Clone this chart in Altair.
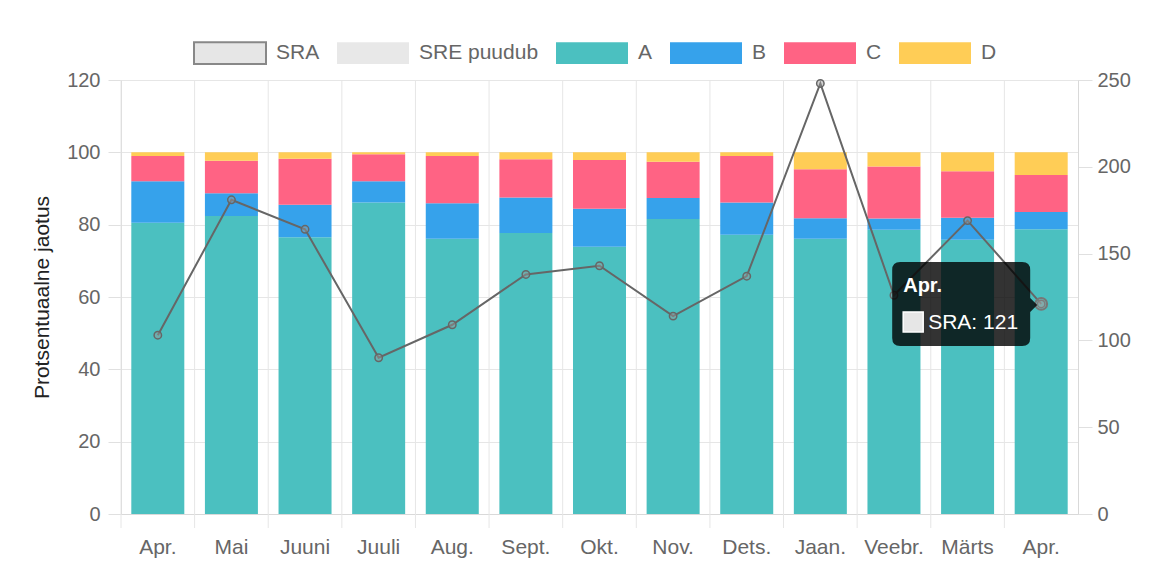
import altair as alt
import pandas as pd

# ---- data ----
months = ["Apr.", "Mai", "Juuni", "Juuli", "Aug.", "Sept.", "Okt.", "Nov.",
          "Dets.", "Jaan.", "Veebr.", "Märts", "Apr."]
series_names = ["A", "B", "C", "D"]
a_vals = [80.5, 82.4, 76.5, 86.1, 76.1, 77.7, 73.9, 81.6, 77.2, 76.1, 78.6, 75.8, 78.7]
b_vals = [11.5, 6.3, 9.0, 5.9, 9.8, 9.8, 10.5, 5.8, 8.9, 5.7, 3.1, 6.1, 4.8]
c_vals = [7.0, 9.0, 12.7, 7.5, 13.1, 10.6, 13.5, 10.0, 12.9, 13.5, 14.4, 12.9, 10.2]
d_vals = [1.0, 2.3, 1.8, 0.5, 1.0, 1.9, 2.1, 2.6, 1.0, 4.7, 3.9, 5.2, 6.3]
sra_vals = [103, 181, 164, 90, 109, 138, 143, 114, 137, 248, 126, 169, 121]

legend_domain = ["SRA", "SRE puudub", "A", "B", "C", "D"]
legend_colors = ["#e6e6e6", "#e8e8e8", "#4bc0c0", "#36a2eb", "#ff6384", "#ffcd56"]
legend_strokes = ["#888888", "transparent", "transparent", "transparent", "transparent", "transparent"]
left_ticks = [0, 20, 40, 60, 80, 100, 120]
right_ticks = [0, 50, 100, 150, 200, 250]
y_title = "Protsentuaalne jaotus"
tip_index = 12

FONT = "Liberation Sans, Arial, sans-serif"

# ---- tables ----
rows = []
for k, (name, vals) in enumerate(zip(series_names, [a_vals, b_vals, c_vals, d_vals])):
    for i, v in enumerate(vals):
        rows.append({"idx": i, "series": name, "value": v, "ord": k})
bars_df = pd.DataFrame(rows)
line_df = pd.DataFrame({"idx": list(range(len(months))), "sra": sra_vals})
grid_df = pd.DataFrame({"idx": list(range(len(months)))})
tip_df = pd.DataFrame({
    "idx": [tip_index],
    "sra": [sra_vals[tip_index]],
    "title": [months[tip_index]],
    "body": [f"SRA: {sra_vals[tip_index]}"],
})

label_expr = "[" + ",".join(f"'{m}'" for m in months) + "][datum.value]"

x_scale = alt.Scale(paddingInner=0, paddingOuter=0)
x_axis = alt.Axis(labelExpr=label_expr, labelAngle=0, title=None, tickSize=14,
                  tickOpacity=0, labelPadding=8, labelFontSize=21, labelColor="#666",
                  domainColor="#d9d9d9", grid=False, labelFont=FONT)


def xenc(**kw):
    return alt.X("idx:O", scale=x_scale, axis=x_axis, **kw)


y_left = alt.Y("value:Q", stack="zero",
               scale=alt.Scale(domain=[0, 120], nice=False),
               axis=alt.Axis(values=left_ticks, title=y_title, grid=True,
                             gridColor="#e6e6e6", tickSize=13, tickColor="#e0e0e0",
                             domainColor="#d9d9d9", labelPadding=8, labelFontSize=20,
                             labelColor="#666", titleFontSize=21, titleColor="#222",
                             titleFontWeight="normal", titlePadding=14,
                             labelFont=FONT, titleFont=FONT))

y_right = alt.Y("sra:Q", scale=alt.Scale(domain=[0, 250], nice=False),
                axis=alt.Axis(orient="right", values=right_ticks, title=None, grid=False,
                              tickSize=14, tickColor="#e0e0e0", domainColor="#d9d9d9",
                              labelPadding=5, labelFontSize=20, labelColor="#666",
                              labelFont=FONT))

# vertical grid lines at category boundaries
vgrid = alt.Chart(grid_df).mark_rule(color="#e6e6e6", strokeWidth=1).encode(
    x=xenc(bandPosition=0),
    y=alt.value(0),
    y2=alt.value(448),
)

legend = alt.Legend(
    orient="none", legendX=72, legendY=-64, direction="horizontal", title=None,
    symbolType="M-1,-0.3H1V0.3H-1Z", symbolSize=5184, symbolOpacity=1,
    symbolStrokeWidth=2,
    labelFontSize=21, labelColor="#666", labelFont=FONT, labelOffset=9,
    columnPadding=13,
)

bars = alt.Chart(bars_df).mark_bar(width=alt.RelativeBandSize(0.72), strokeWidth=0).encode(
    x=xenc(),
    y=y_left,
    color=alt.Color("series:N", scale=alt.Scale(domain=legend_domain, range=legend_colors),
                    legend=legend),
    stroke=alt.Stroke("series:N", scale=alt.Scale(domain=legend_domain, range=legend_strokes),
                      legend=legend),
    order=alt.Order("ord:Q"),
)

bar_group = alt.layer(vgrid, bars)

line = alt.Chart(line_df).mark_line(color="#666", strokeWidth=2).encode(x=xenc(), y=y_right)
points = alt.Chart(line_df).mark_point(
    shape="circle", size=55, filled=True, fill="#999", fillOpacity=0.45,
    stroke="#666", strokeWidth=1.5, opacity=1
).encode(x=xenc(), y=y_right)

hover = alt.Chart(tip_df).mark_point(
    shape="circle", size=140, filled=True, fill="#aaa", fillOpacity=0.35,
    stroke="#777", strokeWidth=2, opacity=1
).encode(x=xenc(), y=y_right)

tip_path = ("M-141,-42H-19Q-11,-42,-11,-34V-6L-4,1L-11,8V34Q-11,42,-19,42"
            "H-141Q-149,42,-149,34V-34Q-149,-42,-141,-42Z")
tip_box = alt.Chart(tip_df).mark_point(
    shape=tip_path, size=4, filled=True, fill="black", fillOpacity=0.8,
    strokeWidth=0, opacity=1
).encode(x=xenc(), y=y_right)

tip_title = alt.Chart(tip_df).mark_text(
    align="left", baseline="alphabetic", dx=-138, dy=-12, fontSize=20,
    fontWeight="bold", color="white", font=FONT
).encode(x=xenc(), y=y_right, text="title:N")

tip_swatch = alt.Chart(tip_df).mark_point(
    shape="square", size=400, filled=True, fill="#e6e6e6", stroke="white",
    strokeWidth=1.5, opacity=1, xOffset=-128, yOffset=18
).encode(x=xenc(), y=y_right)

tip_body = alt.Chart(tip_df).mark_text(
    align="left", baseline="alphabetic", dx=-113, dy=25, fontSize=21,
    color="white", font=FONT
).encode(x=xenc(), y=y_right, text="body:N")

line_group = alt.layer(line, points, hover, tip_box, tip_title, tip_swatch, tip_body)

chart = alt.layer(bar_group, line_group).resolve_scale(y="independent").properties(
    width=957, height=434,
    padding={"left": 113, "top": 72, "right": 60, "bottom": 55},
    autosize=alt.AutoSizeParams(type="none"),
    background="white",
).configure_view(stroke=None).configure(font=FONT)

chart.save("out.html", embed_options={"renderer": "svg", "actions": False})
